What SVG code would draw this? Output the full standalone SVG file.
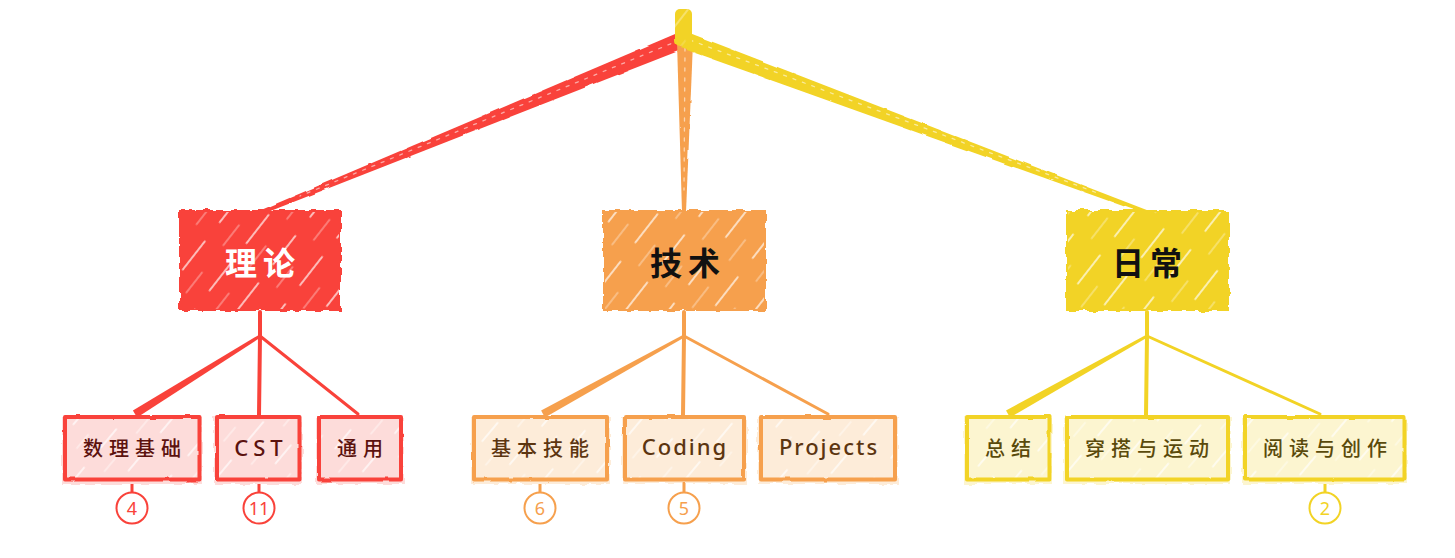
<svg xmlns="http://www.w3.org/2000/svg" width="1455" height="558" viewBox="0 0 1455 558">
<defs>
<filter id="rough" x="-10%" y="-15%" width="120%" height="130%">
<feTurbulence type="fractalNoise" baseFrequency="0.09" numOctaves="2" seed="4" result="n"/>
<feDisplacementMap in="SourceGraphic" in2="n" scale="6" xChannelSelector="R" yChannelSelector="G"/>
</filter>
<filter id="rough2" x="-10%" y="-15%" width="120%" height="130%">
<feTurbulence type="fractalNoise" baseFrequency="0.05" numOctaves="2" seed="7" result="n"/>
<feDisplacementMap in="SourceGraphic" in2="n" scale="2.5" xChannelSelector="R" yChannelSelector="G"/>
</filter>
<pattern id="hatch" patternUnits="userSpaceOnUse" width="34" height="60" patternTransform="rotate(38)">
<line x1="4" y1="4" x2="4" y2="40" stroke="#fff" stroke-width="1.6" stroke-linecap="round" opacity="0.8"/>
<line x1="21" y1="30" x2="21" y2="56" stroke="#fff" stroke-width="1.2" stroke-linecap="round" opacity="0.5"/>
</pattern>
<pattern id="hatch2" patternUnits="userSpaceOnUse" width="36" height="50" patternTransform="rotate(40)">
<line x1="5" y1="4" x2="5" y2="28" stroke="#fff" stroke-width="1.5" stroke-linecap="round" opacity="0.85"/>
<line x1="23" y1="26" x2="23" y2="44" stroke="#fff" stroke-width="1.2" stroke-linecap="round" opacity="0.6"/>
</pattern>
</defs>
<style>
.t1{font-family:"Noto Sans CJK SC","Noto Sans",sans-serif;font-weight:700;font-size:32px;letter-spacing:6px;text-anchor:middle;dominant-baseline:central}
.t2{font-family:"Noto Sans CJK SC","Noto Sans",sans-serif;font-weight:500;font-size:20px;letter-spacing:6px;text-anchor:middle;dominant-baseline:central}
.lt{font-family:"Noto Sans","Noto Sans CJK SC",sans-serif;font-weight:500;font-size:22px;letter-spacing:2px;text-anchor:middle;dominant-baseline:central}
.num{font-family:"Noto Sans","Liberation Sans",sans-serif;font-size:18px;text-anchor:middle;dominant-baseline:central}
.b{fill:none;stroke-width:4;stroke-linejoin:round}
.badge{fill:#fff;stroke-width:2}
.red{stroke:#f9423a}.org{stroke:#f6a04d}.yel{stroke:#f2d325}
.hl{fill:none;stroke:#fff;stroke-width:1.3;stroke-dasharray:3 7;opacity:0.55}
</style>
<rect width="1455" height="558" fill="#fff"/>

<g id="connectors" stroke-linecap="round">
<polygon points="679.8,32.1 261.2,210.1 262.8,213.9 686.2,47.9" fill="#f9423a" filter="url(#rough2)"/>
<line x1="680" y1="40" x2="300" y2="196" class="hl"/>
<polygon points="677,42 693,42 686,212 682,212" fill="#f6a04d" filter="url(#rough2)"/>
<line x1="685" y1="48" x2="684" y2="190" class="hl"/>
<polygon points="687.0,32.0 1146.7,210.1 1145.3,213.9 681.0,48.0" fill="#f2d325" filter="url(#rough2)"/>
<line x1="690" y1="40" x2="1100" y2="194" class="hl"/>
<line x1="260" y1="312" x2="260" y2="336" stroke="#f9423a" stroke-width="4"/>
<polygon points="259.2,334.7 132.9,410.6 137.1,417.4 260.8,337.3" fill="#f9423a"/>
<line x1="260" y1="336" x2="259" y2="415" stroke="#f9423a" stroke-width="4"/>
<line x1="260" y1="336" x2="358" y2="414" stroke="#f9423a" stroke-width="3"/>
<line x1="684" y1="312" x2="684" y2="336" stroke="#f6a04d" stroke-width="4"/>
<polygon points="683.3,334.7 541.1,410.5 544.9,417.5 684.7,337.3" fill="#f6a04d"/>
<line x1="684" y1="336" x2="683" y2="415" stroke="#f6a04d" stroke-width="4"/>
<line x1="684" y1="336" x2="828" y2="414" stroke="#f6a04d" stroke-width="3"/>
<line x1="1147" y1="312" x2="1147" y2="336" stroke="#f2d325" stroke-width="4"/>
<polygon points="1146.3,334.7 1006.0,410.5 1010.0,417.5 1147.7,337.3" fill="#f2d325"/>
<line x1="1147" y1="336" x2="1146" y2="415" stroke="#f2d325" stroke-width="4"/>
<line x1="1147" y1="336" x2="1320" y2="414" stroke="#f2d325" stroke-width="3"/>
<line x1="132" y1="481" x2="132" y2="492" stroke="#f9423a" stroke-width="3"/>
<line x1="259" y1="481" x2="259" y2="492" stroke="#f9423a" stroke-width="3"/>
<line x1="540" y1="481" x2="540" y2="492" stroke="#f6a04d" stroke-width="3"/>
<line x1="684" y1="481" x2="684" y2="492" stroke="#f6a04d" stroke-width="3"/>
<line x1="1325" y1="481" x2="1325" y2="492" stroke="#f2d325" stroke-width="3"/>
</g>

<g id="root">
<rect x="675" y="9" width="17" height="37" rx="5" fill="#f2d325" filter="url(#rough2)"/>
<rect x="675" y="9" width="17" height="37" rx="5" fill="url(#hatch)" opacity="0.5"/>
</g>

<g id="node-lilun">
<rect x="179" y="210" width="162" height="101" fill="#f9423a" filter="url(#rough)"/>
<rect x="181" y="212" width="158" height="97" fill="url(#hatch)"/>
<text x="263" y="261" class="t1" fill="#fff">理论</text>
</g>
<g id="node-jishu">
<rect x="603" y="210" width="163" height="101" fill="#f6a04d" filter="url(#rough)"/>
<rect x="605" y="212" width="159" height="97" fill="url(#hatch)"/>
<text x="688" y="261" class="t1" fill="#111">技术</text>
</g>
<g id="node-richang">
<rect x="1066" y="210" width="163" height="101" fill="#f2d325" filter="url(#rough)"/>
<rect x="1068" y="212" width="159" height="97" fill="url(#hatch)"/>
<text x="1150" y="261" class="t1" fill="#111">日常</text>
</g>

<g id="node-shulijichu">
<rect x="62" y="417" width="140" height="67" fill="#fddcda" filter="url(#rough)"/>
<rect x="65" y="417" width="134.5" height="62.5" fill="url(#hatch2)"/>
<rect x="65" y="417" width="134.5" height="62.5" class="b red" filter="url(#rough2)"/>
<text x="135" y="447" class="t2" fill="#5c120e">数理基础</text>
</g>
<g id="node-cst">
<rect x="214" y="417" width="88" height="67" fill="#fddcda" filter="url(#rough)"/>
<rect x="217" y="417" width="82.5" height="62.5" fill="url(#hatch2)"/>
<rect x="217" y="417" width="82.5" height="62.5" class="b red" filter="url(#rough2)"/>
<text x="261" y="447" class="lt" fill="#5c120e" style="letter-spacing:5px">CST</text>
</g>
<g id="node-tongyong">
<rect x="316" y="417" width="88" height="67" fill="#fddcda" filter="url(#rough)"/>
<rect x="319" y="417" width="82" height="62.5" fill="url(#hatch2)"/>
<rect x="319" y="417" width="82" height="62.5" class="b red" filter="url(#rough2)"/>
<text x="363" y="447" class="t2" fill="#5c120e">通用</text>
</g>

<g id="node-jibenjineng">
<rect x="471" y="417" width="139" height="67" fill="#fdecd9" filter="url(#rough)"/>
<rect x="474" y="417" width="133" height="62.5" fill="url(#hatch2)"/>
<rect x="474" y="417" width="133" height="62.5" class="b org" filter="url(#rough2)"/>
<text x="543" y="447" class="t2" fill="#5c3510">基本技能</text>
</g>
<g id="node-coding">
<rect x="622" y="417" width="125" height="67" fill="#fdecd9" filter="url(#rough)"/>
<rect x="625" y="417" width="119" height="62.5" fill="url(#hatch2)"/>
<rect x="625" y="417" width="119" height="62.5" class="b org" filter="url(#rough2)"/>
<text x="685" y="446" class="lt" fill="#5c3510">Coding</text>
</g>
<g id="node-projects">
<rect x="758" y="417" width="140" height="67" fill="#fdecd9" filter="url(#rough)"/>
<rect x="761" y="417" width="134" height="62.5" fill="url(#hatch2)"/>
<rect x="761" y="417" width="134" height="62.5" class="b org" filter="url(#rough2)"/>
<text x="829" y="446" class="lt" fill="#5c3510">Projects</text>
</g>

<g id="node-zongjie">
<rect x="964" y="417" width="88" height="67" fill="#fcf5d0" filter="url(#rough)"/>
<rect x="967" y="417" width="82.5" height="62.5" fill="url(#hatch2)"/>
<rect x="967" y="417" width="82.5" height="62.5" class="b yel" filter="url(#rough2)"/>
<text x="1011" y="447" class="t2" fill="#5a4a0b">总结</text>
</g>
<g id="node-chuanda">
<rect x="1064" y="417" width="167" height="67" fill="#fcf5d0" filter="url(#rough)"/>
<rect x="1067" y="417" width="161" height="62.5" fill="url(#hatch2)"/>
<rect x="1067" y="417" width="161" height="62.5" class="b yel" filter="url(#rough2)"/>
<text x="1150" y="447" class="t2" fill="#5a4a0b">穿搭与运动</text>
</g>
<g id="node-yuedu">
<rect x="1242" y="417" width="165" height="67" fill="#fcf5d0" filter="url(#rough)"/>
<rect x="1245" y="417" width="159.5" height="62.5" fill="url(#hatch2)"/>
<rect x="1245" y="417" width="159.5" height="62.5" class="b yel" filter="url(#rough2)"/>
<text x="1328" y="447" class="t2" fill="#5a4a0b">阅读与创作</text>
</g>

<g id="badge-4"><circle cx="132" cy="508" r="15.5" class="badge red"/><text x="132" y="508" class="num" fill="#f9423a">4</text></g>
<g id="badge-11"><circle cx="259" cy="508" r="15.5" class="badge red"/><text x="259" y="508" class="num" fill="#f9423a">11</text></g>
<g id="badge-6"><circle cx="540" cy="508" r="15.5" class="badge org"/><text x="540" y="508" class="num" fill="#f6a04d">6</text></g>
<g id="badge-5"><circle cx="684" cy="508" r="15.5" class="badge org"/><text x="684" y="508" class="num" fill="#f6a04d">5</text></g>
<g id="badge-2"><circle cx="1325" cy="508" r="15.5" class="badge yel"/><text x="1325" y="508" class="num" fill="#f2d325">2</text></g>
</svg>
